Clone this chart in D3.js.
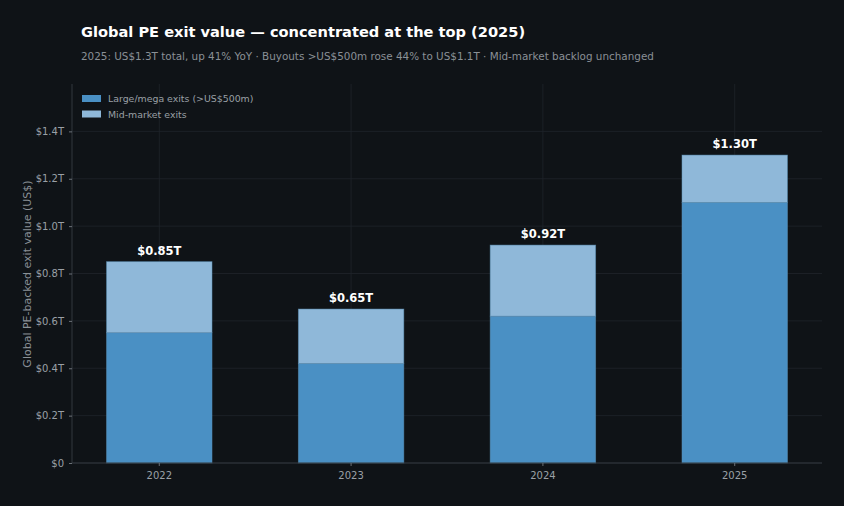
<!DOCTYPE html>
<html><head><meta charset="utf-8">
<script src="https://cdn.jsdelivr.net/npm/d3@7/dist/d3.min.js"></script>
<style>
html,body{margin:0;padding:0;background:#0f1317;}
svg{display:block;font-family:"DejaVu Sans",sans-serif;}
</style></head><body>
<svg id="chart" width="844" height="506"></svg>
<script>
const years = ["2022","2023","2024","2025"];
const largeExits = [0.55, 0.42, 0.62, 1.10];
const midExits = [0.30, 0.23, 0.30, 0.20];
const totalLabels = ["$0.85T","$0.65T","$0.92T","$1.30T"];
const yTicks = [0, 0.2, 0.4, 0.6, 0.8, 1.0, 1.2, 1.4];
const seriesNames = ["Large/mega exits (>US$500m)", "Mid-market exits"];
const seriesColors = ["#4a90c4", "#8fb8d9"];

const svg = d3.select("#chart");
const W = 844, H = 506;
svg.append("rect").attr("width", W).attr("height", H).attr("fill", "#0f1317");
const m = {left: 72, right: 22, top: 84, bottom: 43};
const x = d3.scaleBand().domain(years).range([m.left, W - m.right]).paddingInner(0.45).paddingOuter(0.18);
const y = d3.scaleLinear().domain([0, 1.6]).range([H - m.bottom, m.top]);

// gridlines
const g = svg.append("g");
g.selectAll(".hg").data(yTicks).join("line")
  .attr("x1", m.left).attr("x2", W - m.right)
  .attr("y1", d => y(d)).attr("y2", d => y(d))
  .attr("stroke", "#1f252b").attr("stroke-width", 0.8);
g.selectAll(".vg").data(years).join("line")
  .attr("x1", d => x(d) + x.bandwidth()/2).attr("x2", d => x(d) + x.bandwidth()/2)
  .attr("y1", m.top).attr("y2", H - m.bottom)
  .attr("stroke", "#1f252b").attr("stroke-width", 0.8);

// stacked bars
const data = years.map((yr, i) => ({year: yr, large: largeExits[i], mid: midExits[i], label: totalLabels[i]}));
const stack = d3.stack().keys(["large", "mid"])(data);
svg.append("g").selectAll("g").data(stack).join("g")
  .attr("fill", (d, i) => seriesColors[i])
  .selectAll("rect").data(d => d).join("rect")
  .attr("x", d => x(d.data.year))
  .attr("width", x.bandwidth())
  .attr("y", d => y(d[1]))
  .attr("height", d => y(d[0]) - y(d[1]))
  .attr("stroke", "#5a8fb5").attr("stroke-opacity", 0.6).attr("stroke-width", 0.8);

// value labels
svg.append("g").selectAll("text").data(data).join("text")
  .attr("x", d => x(d.year) + x.bandwidth()/2)
  .attr("y", d => y(d.large + d.mid) - 7)
  .attr("text-anchor", "middle")
  .attr("fill", "#ffffff").attr("font-size", 11.5).attr("font-weight", "bold")
  .text(d => d.label);

// axes
const yAxis = d3.axisLeft(y).tickValues(yTicks).tickSize(3).tickPadding(5)
  .tickFormat(d => d === 0 ? "$0" : "$" + d3.format(".1f")(d) + "T");
const ya = svg.append("g").attr("transform", `translate(${m.left},0)`).call(yAxis);
ya.select(".domain").attr("stroke", "#33393f").attr("d", `M0,${H - m.bottom}V${m.top}`);
ya.selectAll(".tick line").attr("stroke", "#6b7178");
ya.selectAll(".tick text").attr("fill", "#9aa0a6").attr("font-size", 10).attr("font-family", "DejaVu Sans");

const xAxis = d3.axisBottom(x).tickSize(3).tickPadding(6);
const xa = svg.append("g").attr("transform", `translate(0,${H - m.bottom})`).call(xAxis);
xa.select(".domain").attr("stroke", "#33393f").attr("d", `M${m.left},0H${W - m.right}`);
xa.selectAll(".tick line").attr("stroke", "#6b7178");
xa.selectAll(".tick text").attr("fill", "#9aa0a6").attr("font-size", 10).attr("font-family", "DejaVu Sans");

// y label
svg.append("text")
  .attr("transform", `translate(31,274) rotate(-90)`)
  .attr("text-anchor", "middle").attr("fill", "#8a9096").attr("font-size", 11)
  .text("Global PE-backed exit value (US$)");

// title & subtitle
svg.append("text").attr("x", 81).attr("y", 37).attr("fill", "#ffffff")
  .attr("font-size", 14.6).attr("font-weight", "bold")
  .text("Global PE exit value — concentrated at the top (2025)");
svg.append("text").attr("x", 81).attr("y", 60).attr("fill", "#8a9096")
  .attr("font-size", 10.4)
  .text("2025: US$1.3T total, up 41% YoY · Buyouts >US$500m rose 44% to US$1.1T · Mid-market backlog unchanged");

// legend
const lg = svg.append("g").selectAll("g").data(seriesNames).join("g")
  .attr("transform", (d, i) => `translate(82,${95 + i * 15.5})`);
lg.append("rect").attr("width", 19).attr("height", 7)
  .attr("fill", (d, i) => seriesColors[i]);
lg.append("text").attr("x", 26).attr("y", 7).attr("fill", "#9aa0a6")
  .attr("font-size", 9.4).text(d => d);
</script>
</body></html>
